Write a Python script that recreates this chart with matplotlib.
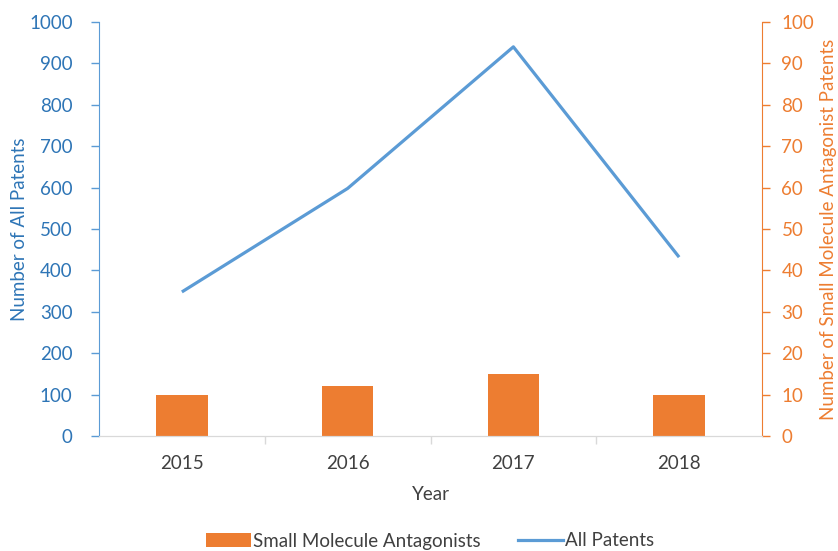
import matplotlib
matplotlib.use('Agg')
import matplotlib.pyplot as plt
from matplotlib.patches import Patch
from matplotlib.lines import Line2D
import numpy as np

years = ['2015', '2016', '2017', '2018']
all_patents = [348, 598, 940, 432]
small_molecule = [10, 12, 15, 10]

BLUE = '#5B9BD5'
BLUE_TXT = '#2E75B6'
ORANGE = '#ED7D31'
GRAY = '#D9D9D9'
TXT = '#404040'

plt.rcParams['font.family'] = ['Lato', 'DejaVu Sans']

fig = plt.figure(figsize=(8.38, 5.51), dpi=100)
ax = fig.add_axes([99 / 838, 115 / 551, 663 / 838, 414 / 551])
ax2 = ax.twinx()

x = np.arange(len(years))
ax2.bar(x, small_molecule, width=0.31, color=ORANGE, zorder=2)
ax.plot(x, all_patents, color=BLUE, lw=2.3, solid_capstyle='butt', zorder=3)
ax.set_zorder(ax2.get_zorder() + 1)
ax.patch.set_visible(False)

ax.set_xlim(-0.5, 3.5)
ax.set_ylim(0, 1000)
ax2.set_ylim(0, 100)
ax.set_yticks(np.arange(0, 1001, 100))
ax2.set_yticks(np.arange(0, 101, 10))
ax.set_xticks(x)
ax.set_xticklabels(years)
ax.set_xticks([0.5, 1.5, 2.5], minor=True)

for a in (ax, ax2):
    a.spines['top'].set_visible(False)
ax.spines['right'].set_visible(False)
ax2.spines['left'].set_visible(False)
ax.spines['left'].set_color(BLUE)
ax2.spines['right'].set_color(ORANGE)
ax.spines['bottom'].set_color(GRAY)
ax2.spines['bottom'].set_color(GRAY)

ax.tick_params(axis='y', colors=BLUE, labelcolor=BLUE_TXT, labelsize=13.5, length=6, width=1, pad=13)
ax2.tick_params(axis='y', colors=ORANGE, labelcolor=ORANGE, labelsize=13.5, length=6, width=1, pad=8)
ax.tick_params(axis='x', which='major', length=0, labelsize=13.5, labelcolor=TXT, pad=14)
ax.tick_params(axis='x', which='minor', length=6, color=GRAY, width=1)

ax.set_ylabel('Number of All Patents', color=BLUE_TXT, fontsize=13.5, labelpad=1)
ax2.set_ylabel('Number of Small Molecule Antagonist Patents', color=ORANGE, fontsize=13.5, labelpad=4)
ax.set_xlabel('Year', color=TXT, fontsize=13.5, labelpad=10)

handles = [Patch(facecolor=ORANGE, edgecolor='none'),
           Line2D([0], [0], color=BLUE, lw=2.3)]
fig.legend(handles, ['Small Molecule Antagonists', 'All Patents'],
           loc='center', bbox_to_anchor=(430 / 838, 1 - 541 / 551), ncol=2, frameon=False,
           fontsize=13.5, handlelength=2.4, handletextpad=0.1, columnspacing=2.0,
           labelcolor=TXT)

fig.savefig('out.png', dpi=100)
